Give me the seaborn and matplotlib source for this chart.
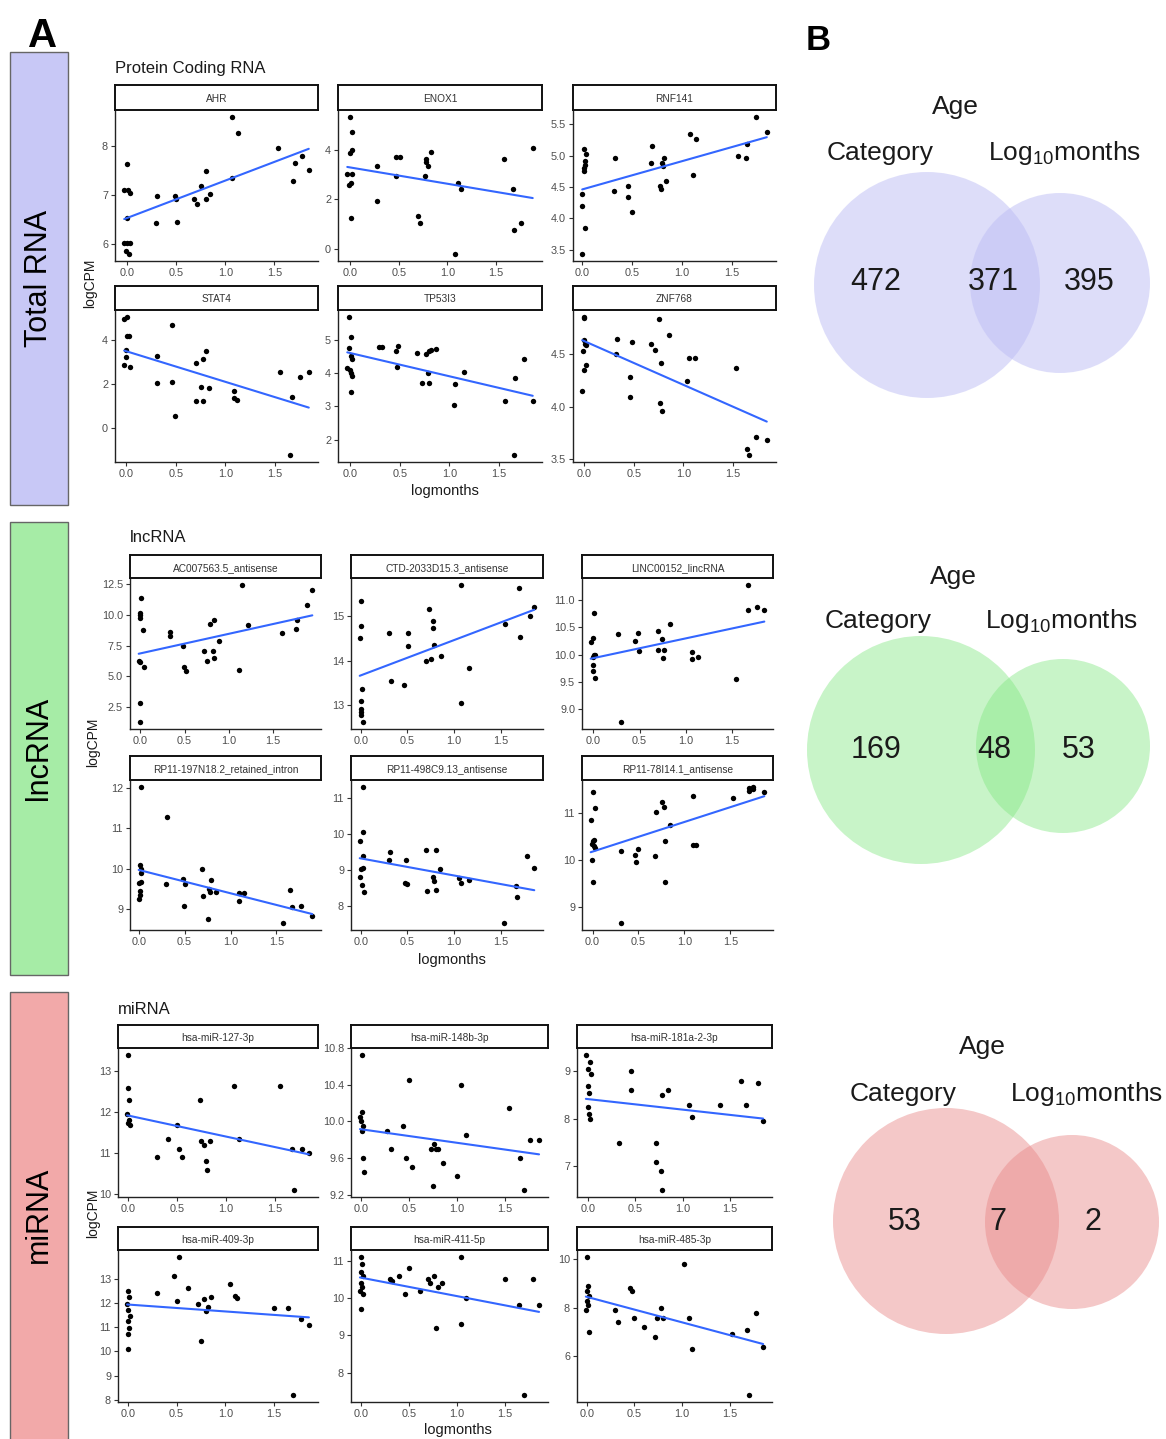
import numpy as np
import pandas as pd
import matplotlib
matplotlib.use("Agg")
import matplotlib.pyplot as plt
import seaborn as sns
from matplotlib.patches import Rectangle, Circle

sns.set_theme(style="ticks")
plt.rcParams['font.family'] = ['Liberation Sans', 'DejaVu Sans']
plt.rcParams['mathtext.default'] = 'regular'

# ---------------- DATA ----------------
# Protein coding RNA
AHR_x = [0.00,-0.03,0.01,0.03,0.00,-0.03,0.00,0.03,-0.01,0.02,0.30,0.29,0.49,0.50,0.51,0.68,0.71,0.75,0.80,0.80,0.84,1.07,1.13,1.07,1.54,1.71,1.69,1.78,1.85]
AHR_y = [7.63,7.10,7.10,7.05,6.53,6.03,6.03,6.03,5.87,5.80,6.98,6.43,6.98,6.92,6.45,6.92,6.82,7.19,7.49,6.92,7.02,8.60,8.28,7.35,7.96,7.65,7.29,7.81,7.51]
ENOX1_x = [0.00,0.02,0.00,0.02,-0.03,0.02,-0.01,0.01,0.01,0.28,0.28,0.47,0.47,0.51,0.70,0.72,0.77,0.78,0.78,0.80,0.83,1.08,1.11,1.14,1.58,1.68,1.69,1.76,1.88]
ENOX1_y = [5.35,4.74,3.90,4.00,3.03,3.03,2.58,2.68,1.26,3.35,1.92,2.97,3.72,3.72,1.31,1.05,2.97,3.64,3.53,3.35,3.92,-0.22,2.68,2.42,3.64,2.41,0.77,1.05,4.08]
RNF141_x = [0.02,0.04,0.03,0.03,0.02,0.02,0.00,0.00,0.03,0.00,0.33,0.32,0.46,0.46,0.50,0.70,0.69,0.80,0.81,0.82,0.84,0.78,0.79,1.08,1.14,1.11,1.56,1.64,1.65,1.74,1.85]
RNF141_y = [5.11,5.02,4.92,4.85,4.81,4.75,4.39,4.20,3.84,3.43,4.97,4.44,4.51,4.34,4.10,5.16,4.88,4.88,4.84,4.96,4.60,4.52,4.47,5.35,5.27,4.70,5.00,4.96,5.19,5.62,5.38]
STAT4_x = [-0.02,0.01,0.01,0.03,0.00,0.00,-0.02,0.04,0.31,0.31,0.46,0.46,0.49,0.70,0.70,0.77,0.77,0.80,0.75,0.83,1.09,1.09,1.12,1.55,1.67,1.65,1.75,1.84]
STAT4_y = [4.98,5.06,4.18,4.17,3.55,3.22,2.85,2.78,3.26,2.05,4.69,2.09,0.51,2.94,1.22,1.22,3.12,3.49,1.86,1.83,1.68,1.37,1.26,2.55,1.40,-1.26,2.32,2.52]
TP53I3_x = [-0.01,0.01,-0.01,0.01,0.02,-0.03,0.00,0.01,0.02,0.01,0.29,0.32,0.46,0.48,0.47,0.67,0.72,0.79,0.78,0.76,0.79,0.81,0.86,1.06,1.05,1.15,1.56,1.66,1.75,1.65,1.84]
TP53I3_y = [5.68,5.07,4.74,4.50,4.42,4.16,4.09,3.99,3.90,3.42,4.77,4.77,4.66,4.81,4.19,4.59,3.70,3.70,4.00,4.56,4.65,4.69,4.72,3.66,3.05,4.04,3.15,3.86,4.41,1.54,3.15]
ZNF768_x = [0.00,0.00,0.00,0.01,0.02,-0.01,0.02,0.00,-0.02,0.33,0.32,0.46,0.46,0.48,0.67,0.71,0.75,0.77,0.76,0.78,0.85,1.04,1.06,1.12,1.53,1.64,1.66,1.73,1.84]
ZNF768_y = [4.85,4.84,4.63,4.59,4.58,4.53,4.39,4.35,4.15,4.64,4.50,4.28,4.09,4.61,4.59,4.54,4.83,4.41,4.03,3.96,4.68,4.24,4.46,4.46,4.37,3.60,3.54,3.71,3.68]

# lncRNA
AC007563_x = [0.01,0.00,0.00,0.00,0.03,-0.02,0.00,0.04,0.00,0.00,0.34,0.34,0.48,0.49,0.52,0.72,0.75,0.79,0.83,0.82,0.83,0.89,1.12,1.15,1.22,1.61,1.76,1.78,1.89,1.95]
AC007563_y = [11.4,10.15,9.96,9.74,8.81,6.27,6.13,5.72,2.77,1.22,8.59,8.26,7.42,5.72,5.37,7.06,6.27,9.28,9.55,7.06,6.49,7.86,5.53,12.47,9.22,8.56,8.89,9.55,10.8,12.06]
CTD2033_x = [0.00,0.00,-0.01,0.01,0.00,0.00,0.00,0.00,0.02,0.30,0.32,0.46,0.51,0.51,0.70,0.75,0.73,0.78,0.78,0.79,0.86,1.08,1.08,1.16,1.55,1.70,1.71,1.81,1.86]
CTD2033_y = [15.34,14.77,14.5,13.35,13.09,12.9,12.83,12.76,12.61,14.63,13.55,13.45,14.62,14.32,14.0,14.04,15.17,14.89,14.73,14.35,14.11,15.71,13.05,13.83,14.83,15.63,14.54,15.0,15.2]
LINC00152_x = [0.01,-0.03,0.00,0.01,-0.01,0.02,-0.01,-0.01,0.02,0.30,0.27,0.45,0.48,0.49,0.70,0.70,0.74,0.75,0.76,0.83,1.07,1.07,1.13,1.54,1.67,1.67,1.77,1.85]
LINC00152_y = [10.77,10.24,10.3,9.99,9.95,10.0,9.8,9.69,9.57,8.76,10.37,10.25,10.4,10.07,10.43,10.09,10.29,9.94,10.08,10.57,10.04,9.91,9.95,9.55,11.28,10.82,10.87,10.82]
RP11_197_x = [0.02,0.31,0.01,0.03,0.03,0.00,0.02,0.01,0.01,0.00,0.30,0.48,0.50,0.49,0.69,0.70,0.75,0.79,0.77,0.78,0.84,1.09,1.09,1.15,1.57,1.65,1.67,1.77,1.89]
RP11_197_y = [12.02,11.27,10.08,10.0,9.89,9.65,9.68,9.44,9.35,9.24,9.61,9.73,9.63,9.07,10.0,9.32,8.75,9.71,9.5,9.42,9.42,9.39,9.2,9.39,8.65,9.47,9.04,9.07,8.83]
RP11_498_x = [0.02,0.02,-0.01,0.02,0.00,0.02,-0.01,0.01,0.04,0.31,0.30,0.49,0.47,0.50,0.70,0.71,0.81,0.77,0.79,0.81,0.85,1.05,1.08,1.16,1.54,1.66,1.67,1.78,1.86]
RP11_498_y = [11.32,10.05,9.82,9.39,9.02,9.06,8.81,8.58,8.39,9.51,9.27,9.27,8.64,8.61,9.55,8.42,9.55,8.79,8.69,8.43,9.02,8.77,8.62,8.71,7.51,8.54,8.25,9.38,9.05]
RP11_78_x = [0.01,0.03,-0.02,0.02,0.00,-0.01,0.02,0.03,-0.01,0.00,0.31,0.31,0.46,0.49,0.47,0.68,0.69,0.76,0.78,0.79,0.79,0.84,1.09,1.09,1.13,1.53,1.70,1.70,1.75,1.75,1.87]
RP11_78_y = [11.46,11.12,10.87,10.44,10.4,10.35,10.3,10.25,10.01,9.53,10.2,8.65,10.12,10.23,9.95,10.09,11.03,11.25,11.14,10.4,9.54,10.76,11.37,10.33,10.33,11.32,11.54,11.47,11.57,11.53,11.46]

# miRNA
MIR127_x = [0.00,0.00,0.01,-0.01,0.01,0.00,0.02,0.30,0.41,0.50,0.52,0.55,0.74,0.75,0.78,0.80,0.81,0.84,1.08,1.13,1.55,1.68,1.70,1.78,1.85]
MIR127_y = [13.4,12.6,12.3,11.95,11.8,11.75,11.7,10.9,11.35,11.7,11.1,10.9,12.3,11.3,11.2,10.8,10.6,11.3,12.65,11.35,12.65,11.1,10.1,11.1,11.0]
MIR148_x = [0.01,0.01,-0.01,0.00,0.02,0.01,0.02,0.03,0.27,0.31,0.50,0.44,0.47,0.53,0.73,0.76,0.78,0.81,0.75,0.86,1.05,1.10,1.00,1.55,1.66,1.70,1.77,1.86]
MIR148_y = [10.72,10.1,10.05,10.0,9.95,9.9,9.6,9.45,9.9,9.7,10.45,9.95,9.6,9.5,9.7,9.75,9.7,9.7,9.3,9.55,10.4,9.85,9.4,10.15,9.6,9.25,9.8,9.8]
MIR181_x = [-0.02,0.02,0.00,0.03,0.00,0.01,0.00,0.01,0.02,0.33,0.46,0.46,0.72,0.72,0.77,0.78,0.78,0.85,1.07,1.10,1.40,1.62,1.67,1.80,1.85]
MIR181_y = [9.35,9.2,9.05,8.95,8.7,8.55,8.25,8.1,8.0,7.5,9.0,8.6,7.5,7.1,6.9,6.5,8.5,8.6,8.3,8.05,8.3,8.8,8.3,8.75,7.95]
MIR409_x = [0.00,0.01,-0.01,0.00,0.02,0.00,0.01,0.00,0.00,0.30,0.47,0.52,0.50,0.62,0.72,0.75,0.78,0.80,0.82,0.85,1.05,1.10,1.12,1.50,1.65,1.70,1.78,1.86]
MIR409_y = [12.5,12.25,11.95,11.7,11.45,11.25,10.95,10.7,10.1,12.4,13.1,13.9,12.1,12.6,11.95,10.45,12.15,11.65,11.85,12.25,12.8,12.3,12.2,11.8,11.8,8.2,11.35,11.1]
MIR411_x = [0.00,0.01,0.00,0.02,0.00,0.01,-0.01,0.02,0.00,0.30,0.32,0.40,0.46,0.50,0.62,0.70,0.72,0.76,0.78,0.80,0.85,1.05,1.05,1.10,1.50,1.65,1.70,1.80,1.86]
MIR411_y = [11.1,10.9,10.7,10.6,10.4,10.3,10.2,10.1,9.7,10.5,10.45,10.6,10.1,10.8,10.2,10.5,10.4,10.6,9.2,10.3,10.4,11.1,9.3,10.0,10.5,9.8,7.4,10.5,9.8]
MIR485_x = [0.00,0.01,0.00,0.02,0.00,0.01,-0.01,0.02,0.30,0.33,0.45,0.47,0.50,0.60,0.72,0.74,0.78,0.80,1.02,1.07,1.10,1.52,1.68,1.70,1.78,1.85]
MIR485_y = [10.1,8.9,8.7,8.5,8.3,8.1,7.9,7.0,7.9,7.4,8.8,8.7,7.6,7.2,6.8,7.6,8.0,7.6,9.8,7.6,6.3,6.9,7.1,4.4,7.8,6.4]

# Panel names and y tick labels
pc_genes = ["AHR", "ENOX1", "RNF141", "STAT4", "TP53I3", "ZNF768"]
lnc_genes = ["AC007563.5_antisense", "CTD-2033D15.3_antisense", "LINC00152_lincRNA",
             "RP11-197N18.2_retained_intron", "RP11-498C9.13_antisense", "RP11-78I14.1_antisense"]
mi_genes = ["hsa-miR-127-3p", "hsa-miR-148b-3p", "hsa-miR-181a-2-3p",
            "hsa-miR-409-3p", "hsa-miR-411-5p", "hsa-miR-485-3p"]
pc_data = [(AHR_x, AHR_y), (ENOX1_x, ENOX1_y), (RNF141_x, RNF141_y),
           (STAT4_x, STAT4_y), (TP53I3_x, TP53I3_y), (ZNF768_x, ZNF768_y)]
lnc_data = [(AC007563_x, AC007563_y), (CTD2033_x, CTD2033_y), (LINC00152_x, LINC00152_y),
            (RP11_197_x, RP11_197_y), (RP11_498_x, RP11_498_y), (RP11_78_x, RP11_78_y)]
mi_data = [(MIR127_x, MIR127_y), (MIR148_x, MIR148_y), (MIR181_x, MIR181_y),
           (MIR409_x, MIR409_y), (MIR411_x, MIR411_y), (MIR485_x, MIR485_y)]
pc_yticks = [[6, 7, 8], [0, 2, 4], [3.5, 4.0, 4.5, 5.0, 5.5], [0, 2, 4], [2, 3, 4, 5], [3.5, 4.0, 4.5]]
lnc_yticks = [[2.5, 5.0, 7.5, 10.0, 12.5], [13, 14, 15], [9.0, 9.5, 10.0, 10.5, 11.0],
              [9, 10, 11, 12], [8, 9, 10, 11], [9, 10, 11]]
mi_yticks = [[10, 11, 12, 13], [9.2, 9.6, 10.0, 10.4, 10.8], [7, 8, 9],
             [8, 9, 10, 11, 12, 13], [8, 9, 10, 11], [6, 8, 10]]
x_ticks = [0.0, 0.5, 1.0, 1.5]

# Venn counts: [Category only, both, Log10months only]
total_counts = [472, 371, 395]
lnc_counts = [169, 48, 53]
mi_counts = [53, 7, 2]

# ---------------- LAYOUT ----------------
W, H = 1166, 1439
fig = plt.figure(figsize=(W / 100, H / 100), dpi=100)


def frac(x0, y0, x1, y1):
    return [x0 / W, 1 - y1 / H, (x1 - x0) / W, (y1 - y0) / H]


ov = fig.add_axes([0, 0, 1, 1])
ov.set_xlim(0, W)
ov.set_ylim(H, 0)
ov.axis('off')

sections = [
    dict(title="Protein Coding RNA", title_xy=(115, 68), genes=pc_genes, data=pc_data, yticks=pc_yticks,
         cols=[(115, 318), (338, 542), (573, 776)], rows=[(85, 110, 261), (286, 310, 462)],
         ylab_xy=(90, 283), xlab_xy=(445, 491),
         side=(10, 52, 68, 505), side_label="Total RNA", side_color="#c8c8f6"),
    dict(title="lncRNA", title_xy=(130, 538), genes=lnc_genes, data=lnc_data, yticks=lnc_yticks,
         cols=[(130, 321), (351, 543), (582, 773)], rows=[(555, 578, 729), (756, 780, 930)],
         ylab_xy=(93, 742), xlab_xy=(452, 960),
         side=(10, 522, 68, 975), side_label="lncRNA", side_color="#a6eca6"),
    dict(title="miRNA", title_xy=(118, 1010), genes=mi_genes, data=mi_data, yticks=mi_yticks,
         cols=[(118, 318), (351, 548), (577, 772)], rows=[(1025, 1048, 1197), (1227, 1250, 1402)],
         ylab_xy=(93, 1213), xlab_xy=(458, 1430),
         side=(10, 992, 68, 1445), side_label="miRNA", side_color="#f2a9a9"),
]

tick_color = "#4d4d4d"


def fmt_ticks(ticks):
    if any(abs(t - round(t)) > 1e-9 for t in ticks):
        return [f"{t:.1f}" for t in ticks]
    return [f"{int(round(t))}" for t in ticks]


def draw_panel(x0, x1, s0, s1, a1, name, xs, ys, yticks):
    ax = fig.add_axes(frac(x0, s1, x1, a1))
    df = pd.DataFrame({"logmonths": xs, "logCPM": ys})
    sns.regplot(data=df, x="logmonths", y="logCPM", ax=ax, ci=None,
                scatter_kws=dict(s=15, color="black", linewidths=0, alpha=1),
                line_kws=dict(color="#3366FF", lw=1.5))
    xmin, xmax = min(xs), max(xs)
    ymin, ymax = min(ys), max(ys)
    px = (xmax - xmin) * 0.05
    py = (ymax - ymin) * 0.05
    ax.set_xlim(xmin - px, xmax + px)
    ax.set_ylim(ymin - py, ymax + py)
    ax.set_xticks(x_ticks)
    ax.set_xticklabels(fmt_ticks(x_ticks))
    ax.set_yticks(yticks)
    ax.set_yticklabels(fmt_ticks(yticks))
    ax.set_xlabel("")
    ax.set_ylabel("")
    for sp in ["top", "right"]:
        ax.spines[sp].set_visible(False)
    for sp in ["left", "bottom"]:
        ax.spines[sp].set_color("#222222")
        ax.spines[sp].set_linewidth(1.0)
    ax.tick_params(length=3, width=0.8, color="#333333", labelsize=7.8,
                   labelcolor=tick_color, pad=2)
    ax.set_facecolor("white")
    # strip
    sx = fig.add_axes(frac(x0, s0, x1, s1))
    sx.set_xticks([])
    sx.set_yticks([])
    sx.set_facecolor("white")
    for sp in sx.spines.values():
        sp.set_color("#111111")
        sp.set_linewidth(1.4)
    sx.text(0.5, 0.45, name, ha="center", va="center", fontsize=7.3, color="#333333",
            transform=sx.transAxes)


for sec in sections:
    # coloured side label
    x0, y0, x1, y1 = sec["side"]
    ov.add_patch(Rectangle((x0, y0), x1 - x0, y1 - y0, facecolor=sec["side_color"],
                           edgecolor="#666666", lw=1.0))
    ov.text((x0 + x1) / 2, (y0 + min(y1, H)) / 2 if y1 <= H else 1215, sec["side_label"],
            rotation=90, ha="center", va="center", fontsize=22, color="black")
    ov.text(sec["title_xy"][0], sec["title_xy"][1], sec["title"], ha="left", va="center",
            fontsize=12, color="#1a1a1a")
    ov.text(sec["ylab_xy"][0], sec["ylab_xy"][1], "logCPM", rotation=90, ha="center",
            va="center", fontsize=10, color="#1a1a1a")
    ov.text(sec["xlab_xy"][0], sec["xlab_xy"][1], "logmonths", ha="center", va="center",
            fontsize=10.5, color="#1a1a1a")
    for i, gname in enumerate(sec["genes"]):
        r, c = divmod(i, 3)
        cx0, cx1 = sec["cols"][c]
        s0, s1, a1 = sec["rows"][r]
        xs, ys = sec["data"][i]
        draw_panel(cx0, cx1, s0, s1, a1, gname, xs, ys, sec["yticks"][i])

ov.text(43, 36, "A", ha="center", va="center", fontsize=29, fontweight="bold", color="black")
ov.text(818, 40, "B", ha="center", va="center", fontsize=25, fontweight="bold", color="black")

# ---------------- VENN ----------------
venns = [
    dict(counts=total_counts, color=(0.74, 0.74, 0.96), alpha=0.5,
         c1=(927, 285, 113), c2=(1060, 283, 90),
         age=(955, 107), cat=(880, 153), log=(1065, 153),
         nums=[(876, 282), (993, 282), (1089, 282)]),
    dict(counts=lnc_counts, color=(0.51, 0.91, 0.51), alpha=0.44,
         c1=(921, 750, 114), c2=(1063, 746, 87),
         age=(953, 577), cat=(878, 621), log=(1062, 621),
         nums=[(876, 750), (994, 750), (1079, 750)]),
    dict(counts=mi_counts, color=(0.915, 0.53, 0.53), alpha=0.46,
         c1=(946, 1221, 113), c2=(1072, 1222, 87),
         age=(982, 1047), cat=(903, 1094), log=(1087, 1094),
         nums=[(905, 1222), (998, 1222), (1093, 1222)]),
]
for v in venns:
    for (cx, cy, r) in (v["c1"], v["c2"]):
        ov.add_patch(Circle((cx, cy), r, facecolor=v["color"], alpha=v["alpha"], edgecolor="none"))
    ov.text(*v["age"], "Age", ha="center", va="center", fontsize=19, color="#1a1a1a")
    ov.text(*v["cat"], "Category", ha="center", va="center", fontsize=19, color="#1a1a1a")
    ov.text(*v["log"], r"Log$_{10}$months", ha="center", va="center", fontsize=19, color="#1a1a1a")
    for (tx, ty), n in zip(v["nums"], v["counts"]):
        ov.text(tx, ty, str(n), ha="center", va="center", fontsize=22, color="#1a1a1a")

fig.savefig("out.png", dpi=100, facecolor="white")
